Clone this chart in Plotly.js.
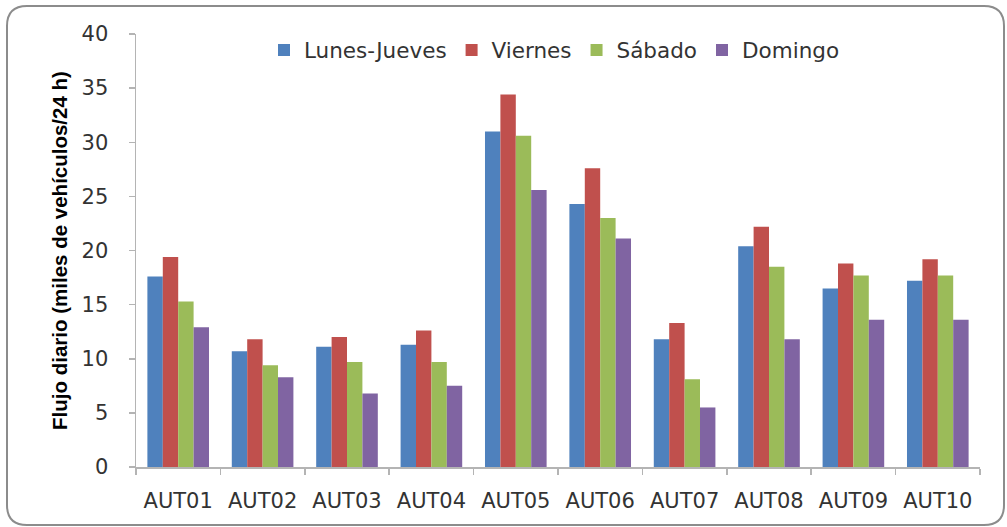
<!DOCTYPE html>
<html>
<head>
<meta charset="utf-8">
<script src="https://cdn.plot.ly/plotly-3.0.1.min.js"></script>
<style>
html,body{margin:0;padding:0;background:#fff;}
#chart{width:1007px;height:527px;}
</style>
</head>
<body>
<div id="chart"></div>
<script>
var categories = ["AUT01","AUT02","AUT03","AUT04","AUT05","AUT06","AUT07","AUT08","AUT09","AUT10"];
var lunesJueves = [17.6, 10.7, 11.1, 11.3, 31.0, 24.3, 11.8, 20.4, 16.5, 17.2];
var viernes     = [19.4, 11.8, 12.0, 12.6, 34.4, 27.6, 13.3, 22.2, 18.8, 19.2];
var sabado      = [15.3,  9.4,  9.7,  9.7, 30.6, 23.0,  8.1, 18.5, 17.7, 17.7];
var domingo     = [12.9,  8.3,  6.8,  7.5, 25.6, 21.1,  5.5, 11.8, 13.6, 13.6];
var seriesNames = ["Lunes-Jueves","Viernes","Sábado","Domingo"];
var yTicks = [0,5,10,15,20,25,30,35,40];

var colors = ["#4F81BD","#C0504D","#9BBB59","#8064A2"];
var allSeries = [lunesJueves, viernes, sabado, domingo];
var traces = allSeries.map(function(vals, i){
  return {type:"bar", x:categories, y:vals, name:seriesNames[i],
          marker:{color:colors[i]}, hoverinfo:"x+y+name"};
});

// plot area in pixels
var L=136, R=980, T=34, B=467, W=1007, H=527;
function xp(px){return (px-L)/(R-L);}
function yp(py){return (B-py)/(B-T);}
// rounded border
var x0=7,y0=6,x1=1004,y1=525,r=20;
var path = "M"+xp(x0+r)+","+yp(y0)+
  " L"+xp(x1-r)+","+yp(y0)+
  " Q"+xp(x1)+","+yp(y0)+" "+xp(x1)+","+yp(y0+r)+
  " L"+xp(x1)+","+yp(y1-r)+
  " Q"+xp(x1)+","+yp(y1)+" "+xp(x1-r)+","+yp(y1)+
  " L"+xp(x0+r)+","+yp(y1)+
  " Q"+xp(x0)+","+yp(y1)+" "+xp(x0)+","+yp(y1-r)+
  " L"+xp(x0)+","+yp(y0+r)+
  " Q"+xp(x0)+","+yp(y0)+" "+xp(x0+r)+","+yp(y0)+" Z";

var tickFont = {family:"DejaVu Sans, Verdana, sans-serif", size:21, color:"#333333"};

var layout = {
  width:W, height:H,
  margin:{l:L, r:W-R, t:T, b:H-B, pad:0},
  paper_bgcolor:"#ffffff", plot_bgcolor:"#ffffff",
  barmode:"group", bargap:0.27, bargroupgap:0,
  showlegend:true,
  legend:{orientation:"h", x:xp(264), xanchor:"left", y:yp(50), yanchor:"middle",
          font:{family:"DejaVu Sans, Verdana, sans-serif", size:21.5, color:"#333333"},
          bgcolor:"rgba(0,0,0,0)", itemwidth:30, traceorder:"normal"},
  xaxis:{type:"category", showline:true, linecolor:"#b4b4b4", linewidth:1.5,
         ticks:"outside", ticklen:6, tickcolor:"#b4b4b4", tickwidth:1.5,
         tickson:"boundaries", showgrid:false, zeroline:false,
         tickfont:tickFont, ticklabelstandoff:14, automargin:false},
  yaxis:{range:[0,40], tickvals:yTicks, showline:true, linecolor:"#b4b4b4", linewidth:1.5,
         ticks:"outside", ticklen:6, tickcolor:"#b4b4b4", tickwidth:1.5,
         showgrid:false, zeroline:false, tickfont:tickFont, ticklabelstandoff:16,
         automargin:false,
         title:{text:"Flujo diario (miles de vehículos/24 h)", standoff:8,
                font:{family:"Liberation Sans, Arial, sans-serif", size:20.5, color:"#000", weight:"bold"}}},
  shapes:[{type:"path", xref:"paper", yref:"paper", path:path,
           line:{color:"#8c8c8c", width:2}, fillcolor:"rgba(0,0,0,0)", layer:"above"}]
};

Plotly.newPlot("chart", traces, layout, {displayModeBar:false, staticPlot:true});
</script>
</body>
</html>
